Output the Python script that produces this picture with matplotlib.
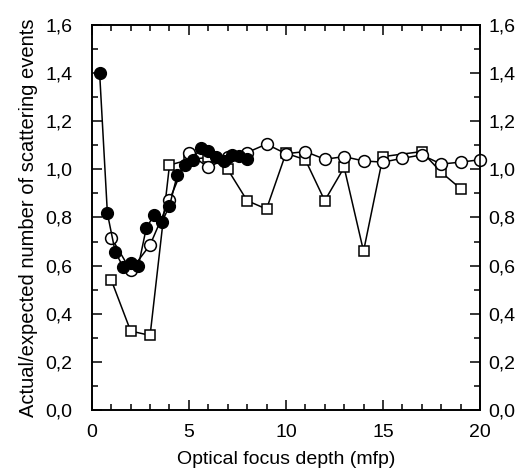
import matplotlib.pyplot as plt
from matplotlib.ticker import MultipleLocator, FuncFormatter

plt.rcParams['font.family'] = ['Liberation Sans', 'DejaVu Sans']

# filled circles
x_filled = [0.4, 0.8, 1.2, 1.6, 2.0, 2.4, 2.8, 3.2, 3.6, 4.0,
            4.4, 4.8, 5.2, 5.6, 6.0, 6.4, 6.8, 7.2, 7.6, 8.0]
y_filled = [1.40, 0.817, 0.658, 0.596, 0.61, 0.60, 0.755, 0.81, 0.78, 0.848,
            0.977, 1.02, 1.04, 1.09, 1.075, 1.05, 1.035, 1.06, 1.055, 1.045]

# open circles
x_open = [1, 2, 3, 4, 5, 6, 7, 8, 9, 10, 11, 12, 13, 14, 15, 16, 17, 18, 19, 20]
y_open = [0.716, 0.58, 0.686, 0.873, 1.067, 1.008, 1.05, 1.07, 1.105, 1.065,
          1.074, 1.042, 1.053, 1.035, 1.03, 1.046, 1.06, 1.022, 1.03, 1.04]

# open squares
x_sq = [1, 2, 3, 4, 5, 6, 7, 8, 9, 10, 11, 12, 13, 14, 15, 17, 18, 19]
y_sq = [0.54, 0.328, 0.31, 1.018, 1.04, 1.05, 1.0, 0.87, 0.835, 1.067,
        1.04, 0.87, 1.008, 0.66, 1.053, 1.074, 0.988, 0.92]

fig = plt.figure(figsize=(5.22, 4.76), dpi=100)
ax = fig.add_axes([0.176, 0.1387, 0.7435, 0.8088])

ax.plot(x_sq, y_sq, color='black', lw=1.1, marker='s', ms=7.5,
        mfc='white', mec='black', mew=1.1, zorder=2)
ax.plot(x_open, y_open, color='black', lw=1.1, marker='o', ms=8.5,
        mfc='white', mec='black', mew=1.1, zorder=3, clip_on=False)
ax.plot(x_filled, y_filled, color='black', lw=1.1, marker='o', ms=8.5,
        mfc='black', mec='black', zorder=4, clip_on=False)

comma = FuncFormatter(lambda v, p: f"{v:.1f}".replace('.', ','))

ax.set_xlim(0, 20)
ax.set_ylim(0, 1.6)
ax.xaxis.set_major_locator(MultipleLocator(5))
ax.xaxis.set_minor_locator(MultipleLocator(1))
ax.yaxis.set_major_locator(MultipleLocator(0.2))
ax.yaxis.set_minor_locator(MultipleLocator(0.1))
ax.yaxis.set_major_formatter(comma)
ax.tick_params(which='both', direction='in', top=True, right=True,
               labelsize=14, width=1.1)
ax.tick_params(which='major', length=7)
ax.tick_params(axis='y', which='major', pad=14)
ax.tick_params(axis='x', which='major', pad=10)
ax.tick_params(which='minor', length=4)

# right-hand labels
ax2 = ax.twinx()
ax2.set_ylim(0, 1.6)
ax2.yaxis.set_major_locator(MultipleLocator(0.2))
ax2.yaxis.set_minor_locator(MultipleLocator(0.1))
ax2.yaxis.set_major_formatter(comma)
ax2.tick_params(which='both', direction='in', labelsize=14, width=1.1)
ax2.tick_params(which='major', length=7, pad=6)
ax2.tick_params(which='minor', length=4)

for a in (ax, ax2):
    for s in a.spines.values():
        s.set_linewidth(1.2)

ax.set_xlabel('Optical focus depth (mfp)', fontsize=14, labelpad=7)
ax.set_ylabel('Actual/expected number of scattering events', fontsize=14.5, labelpad=5)

fig.savefig('out.png', dpi=100)
